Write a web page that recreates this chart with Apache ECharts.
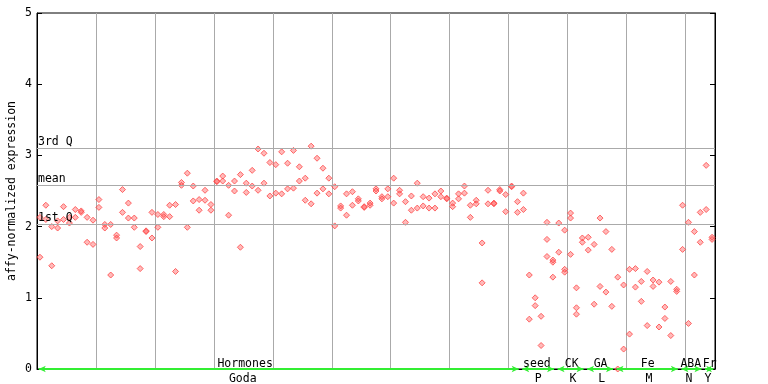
<!DOCTYPE html>
<html>
<head>
<meta charset="utf-8">
<script src="https://cdn.jsdelivr.net/npm/echarts@6/dist/echarts.min.js"></script>
<style>html,body{margin:0;padding:0;background:#fff}#c{width:768px;height:384px}</style>
</head>
<body>
<div id="c"></div>
<script>
// replicate values per sample slot (115 slots)
const repA = [2.13,2.30,2.00,2.08,2.28,2.13,2.24,2.22,2.13,2.09,2.38,2.03,2.03,1.88,2.52,2.33,2.12,1.72,1.94,2.20,
  2.17,2.17,2.30,2.31,2.62,2.75,2.57,2.38,2.51,2.31,2.64,2.71,2.58,2.64,2.73,2.61,2.79,3.09,3.03,2.90,
  2.87,3.05,2.89,3.07,2.84,2.68,3.13,2.96,2.82,2.68,2.56,2.29,2.46,2.49,2.39,2.28,2.33,2.53,2.42,2.53,
  2.68,2.51,2.35,2.43,2.61,2.42,2.40,2.46,2.50,2.40,2.33,2.46,2.57,2.30,2.37,1.77,2.51,2.33,2.52,2.45,
  2.57,2.35,2.47,1.32,1.00,0.74,2.06,1.53,2.05,1.95,2.19,1.14,1.84,1.85,1.75,2.12,1.93,1.68,1.29,1.18,
  1.40,1.41,1.23,1.37,1.25,1.22,0.87,1.23,1.12,2.30,2.06,1.93,2.20,2.86,1.85];
const repB = [1.57,2.10,1.45,1.98,2.10,2.05,2.13,2.20,1.78,1.75,2.27,1.98,1.32,1.84,2.20,2.12,1.99,1.41,1.93,1.84,
  1.99,2.14,2.14,1.37,2.58,1.99,2.36,2.23,2.37,2.23,2.63,2.64,2.16,2.50,1.71,2.48,2.57,2.51,2.61,2.43,
  2.47,2.46,2.53,2.54,2.64,2.37,2.32,2.47,2.53,2.46,2.01,2.26,2.16,2.30,2.36,2.27,2.30,2.50,2.39,2.42,
  2.33,2.46,2.06,2.23,2.26,2.29,2.26,2.26,2.42,2.39,2.28,2.39,2.47,2.13,2.32,1.21,2.32,2.32,2.50,2.21,
  2.56,2.20,2.24,0.70,0.89,0.33,1.82,1.50,1.64,1.40,2.12,0.86,1.78,1.67,0.91,1.16,1.08,0.88,0.00,0.28,
  0.49,1.15,0.95,0.61,1.16,0.59,0.71,0.47,1.09,1.68,0.64,1.32,1.78,2.24,1.82];
const repCSlots = [86, 87, 89, 90, 91];
const repCValues = [1.58, 1.29, 1.36, 1.61, 0.77];

// summary lines
const qNames = ['3rd Q', 'mean', '1st Q'];
const qValues = [3.10, 2.58, 2.04];

// sample groups
const groupNames = ['Hormones', 'seed', 'CK', 'GA', 'Fe', 'ABA', 'Fr'];
const groupSets  = ['Goda', 'P', 'K', 'L', 'M', 'N', 'Y'];
const groupStart = [0, 82, 88, 93, 98, 109, 113];
const groupEnd   = [82, 88, 93, 98, 109, 113, 115];
// label centres (slot units) as placed in the picture
const groupLabelPos = [35.3, 84.8, 90.7, 95.6, 103.6, 110.9, 114.1];
const setLabelPos   = [34.9, 85.0, 90.9, 95.8, 103.8, 110.6, 113.8];

const slotCount = 115;
const yTicks = [0, 1, 2, 3, 4, 5];

const mono = 'DejaVu Sans Mono';
const toPts = arr => arr.map((v, i) => v == null ? null : [i + 0.5, v]).filter(p => p);
const ptsA = toPts(repA), ptsB = toPts(repB);
const ptsC = repCSlots.map((s, i) => [s + 0.5, repCValues[i]]);

const markerStyle = {color: 'rgba(255,80,80,0.5)', borderColor: '#ff4545', borderWidth: 1};

const chart = echarts.init(document.getElementById('c'), null, {renderer: 'canvas'});
const option = {
  animation: false,
  grid: {left: 37, right: 53, top: 13, bottom: 15, show: true, borderColor: '#000', borderWidth: 1,
         backgroundColor: 'transparent', containLabel: false, outerBoundsMode: 'none'},
  xAxis: {
    type: 'value', min: 0, max: slotCount, interval: 10,
    axisLine: {show: true, lineStyle: {color: '#000'}},
    axisTick: {show: false}, axisLabel: {show: false},
    splitLine: {show: true, lineStyle: {color: '#aaaaaa', width: 1}}
  },
  yAxis: [{
    type: 'value', min: yTicks[0], max: yTicks[yTicks.length - 1], interval: 1,
    name: 'affy-normalized expression', nameLocation: 'middle', nameGap: 19, nameRotate: 90,
    nameMoveOverlap: false,
    nameTextStyle: {fontFamily: mono, fontSize: 11.5, color: '#000'},
    axisLine: {show: true, lineStyle: {color: '#000'}},
    axisTick: {show: true, inside: true, length: 5, lineStyle: {color: '#000'}},
    axisLabel: {margin: 5, fontFamily: mono, fontSize: 11.5, color: '#000'},
    splitLine: {show: false}
  }, {
    type: 'value', min: yTicks[0], max: yTicks[yTicks.length - 1], interval: 1, position: 'right',
    axisLine: {show: true, lineStyle: {color: '#000'}},
    axisTick: {show: true, inside: true, length: 5, lineStyle: {color: '#000'}},
    axisLabel: {show: false}, splitLine: {show: false}
  }],
  series: [
    {
      type: 'line', data: [], silent: true,
      markLine: {
        silent: true, symbol: ['none', 'none'],
        lineStyle: {color: '#aaaaaa', type: 'solid', width: 1},
        label: {show: true, position: 'insideStartTop', formatter: '{b}', fontFamily: mono, fontSize: 11.5, color: '#000', distance: [1, 0]},
        data: qNames.map((n, i) => ({name: n, yAxis: qValues[i]}))
      }
    },
    {type: 'scatter', symbol: 'diamond', symbolSize: 6, itemStyle: markerStyle, data: ptsA},
    {type: 'scatter', symbol: 'diamond', symbolSize: 6, itemStyle: markerStyle, data: ptsB},
    {type: 'scatter', symbol: 'diamond', symbolSize: 6, itemStyle: markerStyle, data: ptsC},
    {
      type: 'line', data: [], silent: true, z: 5,
      markLine: {
        silent: true, symbol: ['arrow', 'arrow'], symbolSize: [5, 7],
        lineStyle: {color: '#33ee33', type: 'solid', width: 2},
        label: {show: false},
        data: groupStart.map((s, i) => [{coord: [s + 0.3, 0]}, {coord: [groupEnd[i] - 0.3, 0]}])
      }
    }
  ]
};
chart.setOption(option);

const g = [];
groupNames.forEach((n, i) => {
  const px = chart.convertToPixel({xAxisIndex: 0, yAxisIndex: 0}, [groupLabelPos[i], 0]);
  g.push({type: 'text', x: px[0], y: px[1] - 5, style: {text: n, fontFamily: mono, fontSize: 11.5, fill: '#000', align: 'center', verticalAlign: 'middle'}});
  const px2 = chart.convertToPixel({xAxisIndex: 0, yAxisIndex: 0}, [setLabelPos[i], 0]);
  g.push({type: 'text', x: px2[0], y: px2[1] + 10, style: {text: groupSets[i], fontFamily: mono, fontSize: 11.5, fill: '#000', align: 'center', verticalAlign: 'middle'}});
});
chart.setOption({graphic: g});
</script>
</body>
</html>
